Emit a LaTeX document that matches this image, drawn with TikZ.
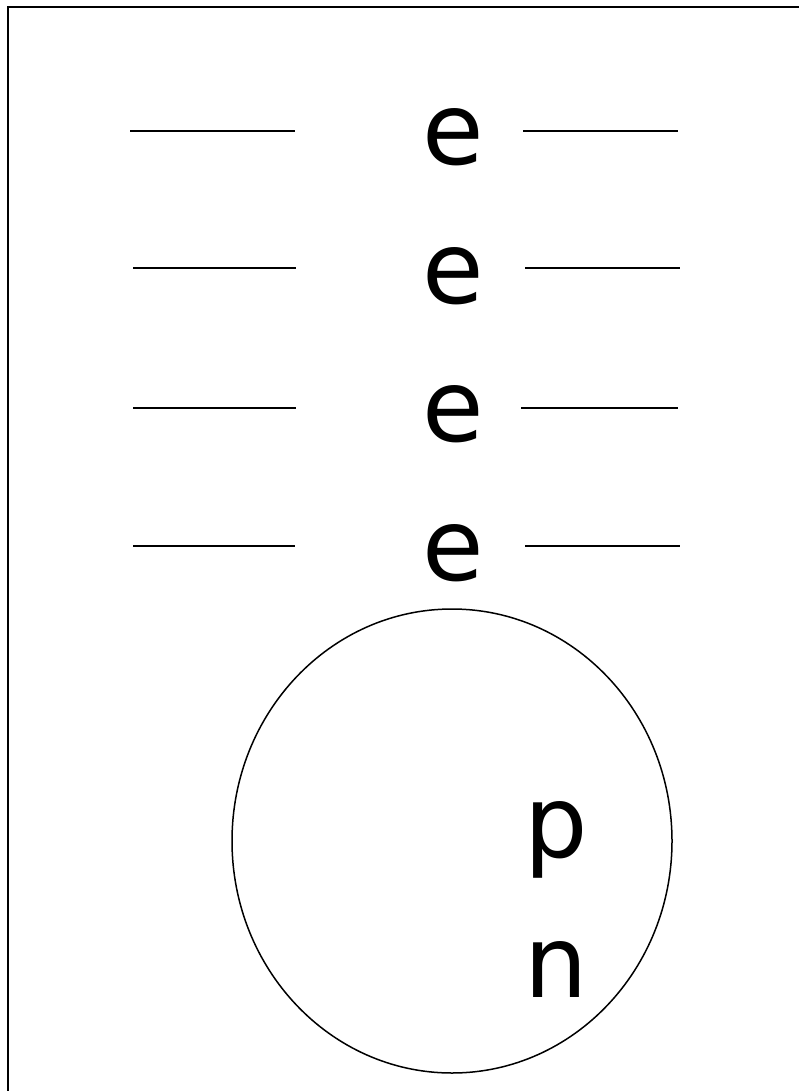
\documentclass[tikz,border=0pt]{standalone}
\usepackage{fontspec}
\setmainfont{DejaVu Sans}
\usetikzlibrary{shapes.geometric}

\begin{document}
\begin{tikzpicture}[x=1pt,y=-1pt,
   lbl/.style={font=\fontsize{100}{100}\selectfont, inner sep=0pt, anchor=base},
   bar/.style={line width=2pt}]
  \useasboundingbox (0,0) rectangle (799,1091);
  % frame
  \draw[line width=2pt] (8,1091) -- (8,7) -- (799,7);
  % column of e
  \node[lbl] (e1) at (453,165) {e};
  \node[lbl] (e2) at (453,303) {e};
  \node[lbl] (e3) at (453,441) {e};
  \node[lbl] (e4) at (453,580) {e};
  % bars left and right
  \draw[bar] (130,131) -- (295,131);
  \draw[bar] (523,131) -- (678,131);
  \draw[bar] (133,268) -- (296,268);
  \draw[bar] (525,268) -- (680,268);
  \draw[bar] (133,408) -- (296,408);
  \draw[bar] (521,408) -- (678,408);
  \draw[bar] (133,546) -- (295,546);
  \draw[bar] (525,546) -- (680,546);
  % ring
  \node[draw, ellipse, line width=1.5pt, inner sep=0pt,
        minimum width=440pt, minimum height=464pt] (ring) at (452,841) {};
  \node[lbl] (p) at (556,857) {p};
  \node[lbl] (n) at (556,997) {n};
\end{tikzpicture}
\end{document}
